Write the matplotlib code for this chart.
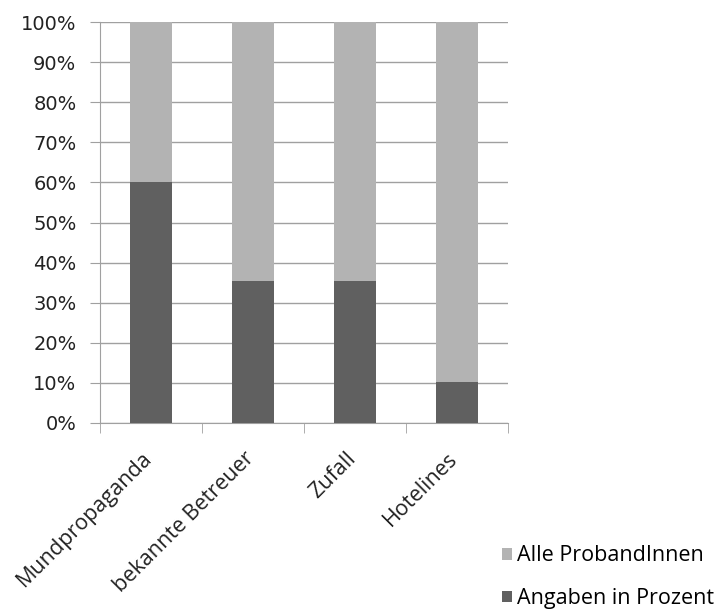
import numpy as np
import matplotlib.pyplot as plt
import matplotlib.transforms as mtransforms
from matplotlib.ticker import PercentFormatter

categories = ['Mundpropaganda', 'bekannte Betreuer', 'Zufall', 'Hotelines']
angaben = [60.0, 35.3, 35.3, 10.2]
alle = [100 - v for v in angaben]

plt.rcParams['font.family'] = ['Open Sans', 'DejaVu Sans']

fig = plt.figure(figsize=(7.28, 6.09), dpi=100)
ax = fig.add_axes([100 / 728, 1 - 423 / 609, 408 / 728, 401 / 609])

x = np.arange(len(categories))
b1 = ax.bar(x, angaben, width=0.41, color='#606060', zorder=3)
b2 = ax.bar(x, alle, width=0.41, bottom=angaben, color='#b3b3b3', zorder=3)

ax.set_xlim(-0.5, len(categories) - 0.5)
ax.set_ylim(0, 100)
ax.set_yticks(np.arange(0, 101, 10))
ax.yaxis.set_major_formatter(PercentFormatter(decimals=0))
ax.grid(axis='y', color='#a0a0a0', linewidth=1, zorder=0)

ax.set_xticks(x)
ax.set_xticklabels(categories, rotation=45, ha='right', rotation_mode='anchor',
                   fontsize=15.5, color='#222222')
ax.set_xticks(np.arange(-0.5, len(categories)), minor=True)
ax.tick_params(axis='x', which='major', length=0, pad=18)
ax.tick_params(axis='x', which='minor', length=7, color='#a0a0a0', direction='out')
ax.tick_params(axis='y', length=7, color='#a0a0a0', pad=10)

# nudge the rotated labels a bit to the left
shift = mtransforms.ScaledTranslation(-7 / 72, 0, fig.dpi_scale_trans)
for lbl in ax.get_xticklabels():
    lbl.set_transform(lbl.get_transform() + shift)

for lbl in ax.get_yticklabels():
    lbl.set_family('DejaVu Sans')
    lbl.set_fontsize(14)
    lbl.set_color('#222222')

for side in ['top', 'right']:
    ax.spines[side].set_visible(False)
for side in ['left', 'bottom']:
    ax.spines[side].set_color('#a0a0a0')

fig.legend([b2, b1], ['Alle ProbandInnen', 'Angaben in Prozent'],
           loc='lower left', bbox_to_anchor=(502 / 728, 0),
           frameon=False, fontsize=15.5, handlelength=0.45, handleheight=0.45,
           handletextpad=0.25, labelspacing=1.0, borderpad=0, borderaxespad=0)

fig.savefig('out.png', dpi=100)
